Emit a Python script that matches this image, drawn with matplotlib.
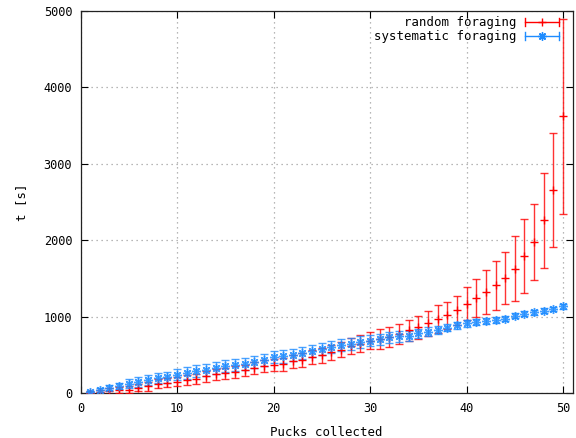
import matplotlib
matplotlib.use("Agg")
import matplotlib.pyplot as plt
import numpy as np
from matplotlib.legend_handler import HandlerBase
from matplotlib.lines import Line2D

pucks = list(range(1, 51))

random_mean = [5, 17, 30, 39, 48, 74, 91, 126, 139, 150,
               170, 192, 222, 248, 265, 278, 300, 335, 356, 372,
               379, 418, 440, 474, 496, 539, 570, 613, 648, 690,
               714, 735, 779, 822, 866, 918, 975, 1020, 1088, 1171,
               1244, 1327, 1410, 1510, 1632, 1793, 1980, 2262, 2663, 3620]
random_err = [20, 30, 40, 40, 45, 50, 55, 55, 60, 60,
              65, 65, 70, 70, 72, 75, 75, 78, 80, 80,
              85, 88, 90, 92, 95, 98, 100, 105, 110, 115,
              130, 130, 130, 140, 150, 165, 180, 180, 190, 215,
              250, 290, 320, 340, 425, 480, 500, 625, 745, 1270]

systematic_mean = [15, 45, 74, 96, 126, 148, 170, 200, 213, 244,
                   265, 291, 309, 330, 356, 366, 387, 409, 440, 474,
                   483, 505, 526, 552, 583, 604, 627, 648, 670, 690,
                   705, 730, 744, 755, 785, 806, 826, 860, 888, 918,
                   931, 945, 960, 978, 1015, 1040, 1061, 1083, 1105, 1136]
systematic_err = [15, 25, 35, 45, 55, 60, 65, 70, 72, 75,
                  75, 75, 78, 78, 78, 80, 80, 80, 80, 80,
                  80, 80, 80, 80, 80, 80, 78, 78, 76, 75,
                  72, 70, 68, 65, 62, 60, 55, 50, 48, 45,
                  42, 40, 38, 36, 35, 33, 32, 30, 30, 30]

labels = ["random foraging", "systematic foraging"]
RED = "#ff0000"
BLUE = "#1e8cff"

plt.rcParams['font.family'] = ['DejaVu Sans Mono']
plt.rcParams['font.size'] = 8.6

fig = plt.figure(figsize=(5.76, 4.38), dpi=100)
ax = fig.add_axes([0.1398, 0.102, 0.8545, 0.873])

asterisk = (8, 2, 0)
ax.errorbar(pucks, random_mean, yerr=random_err, fmt='none', ecolor=RED,
            elinewidth=1.0, capsize=3, capthick=1.0, alpha=0.8, zorder=3)
ax.plot(pucks, random_mean, ls='none', marker='+', ms=6, mew=1.0, color=RED, zorder=4)
ax.errorbar(pucks, systematic_mean, yerr=systematic_err, fmt='none', ecolor=BLUE,
            elinewidth=1.0, capsize=3, capthick=1.0, alpha=0.8, zorder=3)
ax.plot(pucks, systematic_mean, ls='none', marker=asterisk, ms=6.5, mew=1.0, color=BLUE,
        zorder=4, alpha=0.85)

ax.set_xlim(0, 51)
ax.set_ylim(0, 5000)
ax.set_xticks(range(0, 51, 10))
ax.set_yticks(range(0, 5001, 1000))
ax.tick_params(direction='in', length=5, width=0.8, top=True, right=True,
               colors='black', labelsize=8.6, pad=6)
ax.grid(True, linestyle=(0, (1, 3)), color='#a0a0a0', linewidth=0.9)
for s in ax.spines.values():
    s.set_color('#222222')
    s.set_linewidth(0.9)

ax.set_xlabel("Pucks collected", fontsize=8.9, labelpad=8)
ax.set_ylabel("t [s]", fontsize=8.9, labelpad=11)


class ErrHandler(HandlerBase):
    def __init__(self, color, marker, **kw):
        super().__init__(**kw)
        self.color = color
        self.marker = marker

    def create_artists(self, legend, orig_handle, xdescent, ydescent, width,
                       height, fontsize, trans):
        y = height / 2 - ydescent
        x0, x1 = -xdescent, -xdescent + width
        h = 3.0
        arts = [
            Line2D([x0, x1], [y, y], color=self.color, lw=1.0),
            Line2D([x0, x0], [y - h, y + h], color=self.color, lw=1.0),
            Line2D([x1, x1], [y - h, y + h], color=self.color, lw=1.0),
            Line2D([(x0 + x1) / 2], [y], color=self.color, marker=self.marker,
                   ms=6, mew=1.0, ls='none'),
        ]
        for a in arts:
            a.set_transform(trans)
        return arts


h1 = Line2D([], [], color=RED)
h2 = Line2D([], [], color=BLUE)
leg = ax.legend([h1, h2], labels, loc='upper right', bbox_to_anchor=(0.9716, 0.986),
                frameon=False, markerfirst=False, handlelength=2.75, handletextpad=0.65,
                labelspacing=0.08, borderaxespad=0, borderpad=0, fontsize=8.9,
                handler_map={h1: ErrHandler(RED, '+'), h2: ErrHandler(BLUE, asterisk)})

fig.savefig("out.png", dpi=100)
